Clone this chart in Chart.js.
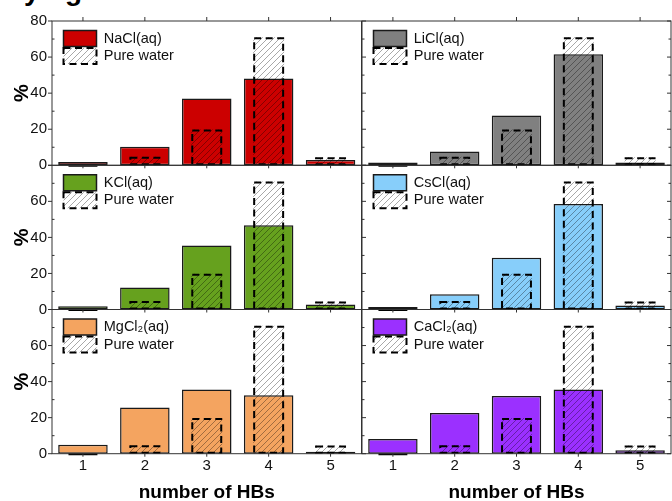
<!DOCTYPE html>
<html><head><meta charset="utf-8">
<script src="https://cdn.jsdelivr.net/npm/chart.js@4.4.1/dist/chart.umd.min.js"></script>
<style>
html,body{margin:0;padding:0;background:#fff;}
#wrap{position:relative;width:672px;height:501px;overflow:hidden;background:#fff;}
canvas{position:absolute;left:0;top:0;}
.frag{position:absolute;font:bold 28px "Liberation Sans",Arial,sans-serif;line-height:28px;top:-23px;color:#000;}
</style></head><body>
<div id="wrap">
<span class="frag" style="left:24px">y</span><span class="frag" style="left:65px">g</span>
</div>
<script>
// ---- data ----
const categories = ['1', '2', '3', '4', '5'];
const pureWater = [0.3, 4.7, 19.8, 71, 4.5];
const naclValues = [1.8, 10.3, 37, 48.1, 3];
const liclValues = [1.5, 7.6, 27.6, 61.6, 1.5];
const kclValues = [1.8, 12.2, 35.5, 46.8, 2.8];
const csclValues = [1.4, 8.5, 28.7, 58.5, 2.2];
const mgcl2Values = [5, 25.6, 35.6, 32.4, 1.1];
const cacl2Values = [8.2, 22.6, 32, 35.6, 1.9];
const saltNames = ['NaCl(aq)', 'LiCl(aq)', 'KCl(aq)', 'CsCl(aq)', 'MgCl₂(aq)', 'CaCl₂(aq)'];
const saltSeries = [naclValues, liclValues, kclValues, csclValues, mgcl2Values, cacl2Values];
const waterLabel = 'Pure water';
const yTickValues = [0, 20, 40, 60, 80];
const yMinorValues = [10, 30, 50, 70];
const xTitle = 'number of HBs';
const yTitle = '%';

// ---- styles ----
const saltColors = ['#cc0000', '#808080', '#66a11e', '#87cefa', '#f4a460', '#9b30ff'];
const FONT = '"Liberation Sans", Arial, sans-serif';
Chart.defaults.font.family = FONT;
Chart.defaults.color = '#111';

const W = 672, H = 501;
const rowTop = [21, 165.3, 309.5];
const rowBottom = [165.3, 309.5, 453.7];
const colLeft = [52, 362];
const colRight = [361.5, 671];

function makeHatch() {
  const s = 6;
  const c = document.createElement('canvas');
  c.width = s; c.height = s;
  const g = c.getContext('2d');
  g.strokeStyle = 'rgba(0,0,0,0.38)';
  g.lineWidth = 0.9;
  g.beginPath();
  g.moveTo(0, s); g.lineTo(s, 0);
  g.moveTo(-1, 1); g.lineTo(1, -1);
  g.moveTo(s - 1, s + 1); g.lineTo(s + 1, s - 1);
  g.stroke();
  return g.createPattern(c, 'repeat');
}

const dashedWater = {
  id: 'dashedWater',
  afterDatasetsDraw(chart) {
    const meta = chart.getDatasetMeta(1);
    const ctx = chart.ctx;
    ctx.save();
    ctx.strokeStyle = '#000';
    ctx.lineWidth = 2;
    ctx.setLineDash([7, 4.5]);
    meta.data.forEach(el => {
      const p = el.getProps(['x', 'y', 'base', 'width'], true);
      const left = p.x - p.width / 2;
      const top = Math.min(p.y, p.base);
      const h = Math.abs(p.base - p.y);
      ctx.strokeRect(left + 1, top + 1, p.width - 2, Math.max(h - 2, 0));
    });
    ctx.restore();
  }
};

const legendPlace = {
  id: 'legendPlace',
  afterLayout(chart) {
    const lg = chart.legend, a = chart.chartArea;
    if (!lg) return;
    lg.left = a.left + 10; lg.top = a.top + 8;
    lg.right = lg.left + lg.width; lg.bottom = lg.top + lg.height;
  }
};

const framePlugin = {
  id: 'frame',
  afterDraw(chart, args, opts) {
    const {ctx, chartArea: a} = chart;
    const x = chart.scales.x, y = chart.scales.y;
    ctx.save();
    ctx.strokeStyle = '#333';
    ctx.lineWidth = 1;
    ctx.setLineDash([]);
    ctx.strokeRect(a.left, a.top, a.right - a.left, a.bottom - a.top);
    ctx.beginPath();
    yTickValues.forEach(v => {
      const py = y.getPixelForValue(v);
      if (opts.col === 0) { ctx.moveTo(a.left - 4, py); ctx.lineTo(a.left, py); }
      else { ctx.moveTo(a.left, py); ctx.lineTo(a.left + 4, py); ctx.moveTo(a.right - 4, py); ctx.lineTo(a.right, py); }
    });
    yMinorValues.forEach(v => {
      const py = y.getPixelForValue(v);
      ctx.moveTo(a.left, py); ctx.lineTo(a.left + 2.5, py);
      if (opts.col === 1) { ctx.moveTo(a.right - 2.5, py); ctx.lineTo(a.right, py); }
    });
    categories.forEach((c, i) => {
      const px = x.getPixelForValue(i);
      ctx.moveTo(px, a.bottom); ctx.lineTo(px, a.bottom + 3);
      if (opts.row === 0) { ctx.moveTo(px, a.top - 4); ctx.lineTo(px, a.top); }
    });
    ctx.stroke();
    ctx.restore();
  }
};

const wrap = document.getElementById('wrap');
for (let k = 0; k < 6; k++) {
  const row = Math.floor(k / 2), col = k % 2;
  const cv = document.createElement('canvas');
  cv.width = W; cv.height = H;
  wrap.appendChild(cv);
  const hatch = makeHatch();
  const color = saltColors[k];
  new Chart(cv, {
    type: 'bar',
    data: {
      labels: categories,
      datasets: [
        {
          label: saltNames[k], data: saltSeries[k], order: 2, grouped: false,
          backgroundColor: color, borderColor: '#1a1a1a', borderWidth: 1.5, borderSkipped: false,
          barPercentage: 0.8, categoryPercentage: 1
        },
        {
          label: waterLabel, data: pureWater, order: 1, grouped: false,
          backgroundColor: hatch, borderWidth: 0,
          barPercentage: 0.5, categoryPercentage: 1
        }
      ]
    },
    options: {
      responsive: false, animation: false, events: [], devicePixelRatio: 1,
      layout: {
        padding: {
          left: col === 0 ? 0 : colLeft[1],
          right: W - colRight[col],
          top: rowTop[row],
          bottom: row === 2 ? 0 : H - rowBottom[row]
        }
      },
      scales: {
        x: {
          type: 'category', offset: true,
          grid: { display: false, drawTicks: false },
          border: { display: false },
          ticks: { display: row === 2, font: { size: 15 }, color: '#111', padding: 3, maxRotation: 0 },
          title: { display: row === 2, text: xTitle, font: { size: 19, weight: 'bold', lineHeight: 0.85 }, color: '#000', padding: { top: 0, bottom: 0 } },
          afterFit: s => { s.height = row === 2 ? H - rowBottom[2] : 0; }
        },
        y: {
          min: 0, max: 80,
          grid: { display: false, drawTicks: false },
          border: { display: false },
          ticks: {
            display: col === 0, stepSize: 20, font: { size: 15 }, color: '#111', padding: 5,
            callback: v => (row > 0 && v === 80) ? '' : String(v)
          },
          title: { display: col === 0, text: yTitle, font: { size: 20, weight: 'bold' }, color: '#000', padding: { top: 10, bottom: 0 } },
          afterFit: s => { s.width = col === 0 ? colLeft[0] : 0; }
        }
      },
      plugins: {
        tooltip: { enabled: false },
        title: { display: false },
        frame: { col: col, row: row },
        legend: {
          display: true, position: 'chartArea', align: 'start',
          labels: {
            boxWidth: 33, boxHeight: 16, padding: 1.5, color: '#111',
            font: { size: 14.5 },
            generateLabels: () => [
              { text: saltNames[k], fillStyle: color, strokeStyle: '#1a1a1a', lineWidth: 1.5, lineDash: [], hidden: false, datasetIndex: 0, fontColor: '#111' },
              { text: waterLabel, fillStyle: hatch, strokeStyle: '#000', lineWidth: 2, lineDash: [7, 4.5], hidden: false, datasetIndex: 1, fontColor: '#111' }
            ]
          }
        }
      }
    },
    plugins: [dashedWater, legendPlace, framePlugin]
  });
}
</script>
</body></html>
